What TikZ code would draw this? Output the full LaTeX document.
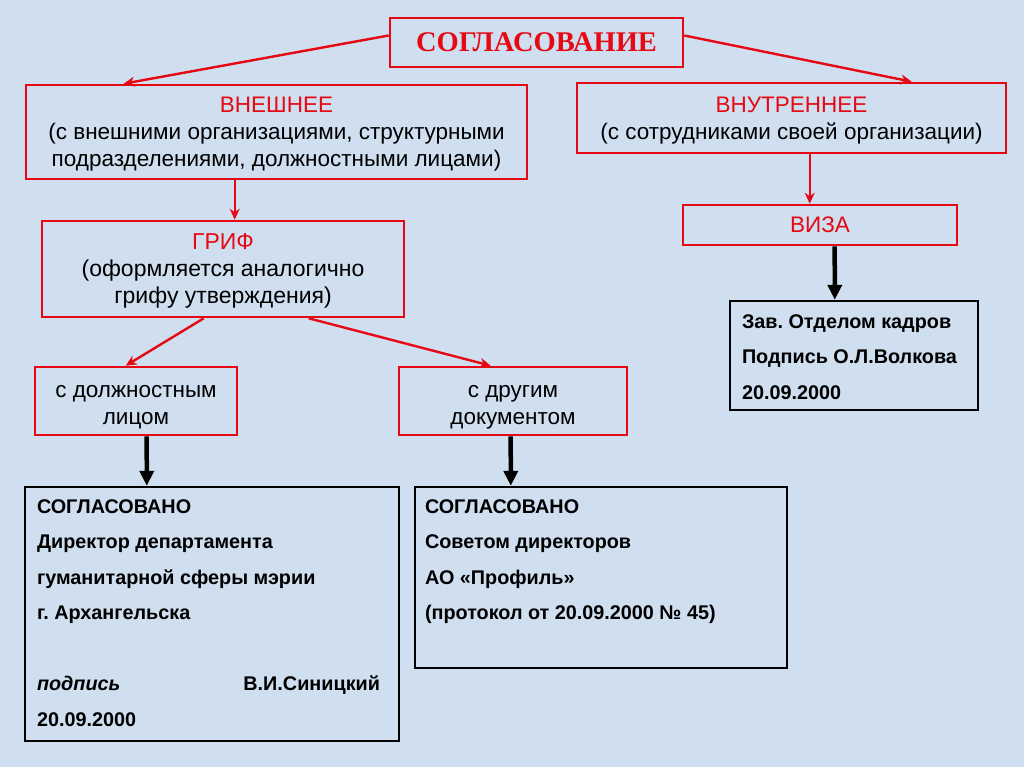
\documentclass[tikz,border=0pt]{standalone}
\usepackage{fontspec}
\setmainfont{Liberation Sans}
\newfontfamily\titlefont{Liberation Serif}
\usetikzlibrary{arrows.meta,calc}
\definecolor{bg}{RGB}{207,223,240}
\definecolor{myred}{RGB}{230,8,18}
\frenchspacing
\tikzset{
  redbox/.style={draw=myred, line width=2.6pt, inner sep=0pt, align=center,
    font=\fontsize{22.5}{27}\selectfont},
  blackbox/.style={draw=black, line width=2.4pt, inner sep=0pt,
    font=\fontsize{19.8}{35.5}\selectfont\bfseries},
  redarrow/.style={draw=myred, line width=2.4pt, -{Stealth[length=11pt,width=10pt]}},
  blackarrow/.style={draw=black, line width=4.5pt, -{Triangle[length=15pt,width=14pt]}}
}
\begin{document}
\begin{tikzpicture}[x=1pt,y=-1pt]
\fill[bg] (0,0) rectangle (1024,767);
\useasboundingbox (0,0) rectangle (1024,767);

\node[redbox, minimum width=293pt, minimum height=49pt,
  font=\fontsize{28.5}{30}\selectfont\titlefont\bfseries, text=myred]
  (title) at (536.5,42.5) {СОГЛАСОВАНИЕ};

\node[redbox, minimum width=501pt, minimum height=94pt] (ext) at (276.5,132)
  {\rule{0pt}{20pt}\textcolor{myred}{ВНЕШНЕЕ}\\(с внешними организациями, структурными\\подразделениями, должностными лицами)};

\node[redbox, minimum width=429pt, minimum height=70pt] (int) at (791.5,118)
  {\rule{0pt}{20pt}\textcolor{myred}{ВНУТРЕННЕЕ}\\(с сотрудниками своей организации)};

\node[redbox, minimum width=362pt, minimum height=96pt, font=\fontsize{23}{27}\selectfont] (grif) at (223,269)
  {\rule{0pt}{19pt}\textcolor{myred}{ГРИФ}\\(оформляется аналогично\\грифу утверждения)};

\node[redbox, minimum width=274pt, minimum height=40pt] (viza) at (820,225)
  {\textcolor{myred}{ВИЗА}};

\node[redbox, minimum width=202pt, minimum height=68pt] (dolzh) at (136,401)
  {\rule{0pt}{24pt}с должностным\\лицом};

\node[redbox, minimum width=228pt, minimum height=68pt] (drug) at (513,401)
  {\rule{0pt}{24pt}с другим\\документом};

\node[blackbox] (zav) at (854,355.5)
  {\begin{minipage}[c][109pt][t]{248pt}\raggedright\leftskip=12pt\rule{0pt}{27pt}Зав. Отделом кадров\\
   Подпись О.Л.Волкова\\
   20.09.2000\end{minipage}};

\node[blackbox] (sogl1) at (212,614)
  {\begin{minipage}[c][254pt][t]{374pt}\raggedright\leftskip=12pt\rule{0pt}{26pt}СОГЛАСОВАНО\\
   Директор департамента\\
   гуманитарной сферы мэрии\\
   г. Архангельска\\[35.5pt]
   \makebox[343pt][l]{\textit{подпись}\hfill В.И.Синицкий}\\
   20.09.2000\end{minipage}};

\node[blackbox] (sogl2) at (601,577.5)
  {\begin{minipage}[c][181pt][t]{372pt}\raggedright\leftskip=10pt\rule{0pt}{26pt}СОГЛАСОВАНО\\
   Советом директоров\\
   АО «Профиль»\\
   (протокол от 20.09.2000 № 45)\end{minipage}};

\draw[redarrow] ($(title.west)+(0,-7)$) -- ($(ext.north west)+(99,0)$);
\draw[redarrow] ($(title.east)+(0,-7)$) -- ($(int.north west)+(336,0)$);
\draw[redarrow] ($(ext.south west)+(210,0)$) -- ($(grif.north west)+(194,0)$);
\draw[redarrow] ($(int.south west)+(234,0)$) -- ($(viza.north west)+(128,0)$);
\draw[redarrow] ($(grif.south west)+(163,0)$) -- ($(dolzh.north west)+(92,0)$);
\draw[redarrow] ($(grif.south west)+(268,0)$) -- ($(drug.north west)+(93,0)$);
\draw[blackarrow] ($(viza.south west)+(153,0)$) -- ($(zav.north west)+(106,0)$);
\draw[blackarrow] ($(dolzh.south west)+(113,0)$) -- ($(sogl1.north west)+(123,0)$);
\draw[blackarrow] ($(drug.south west)+(113,0)$) -- ($(sogl2.north west)+(97,0)$);
\end{tikzpicture}
\end{document}
